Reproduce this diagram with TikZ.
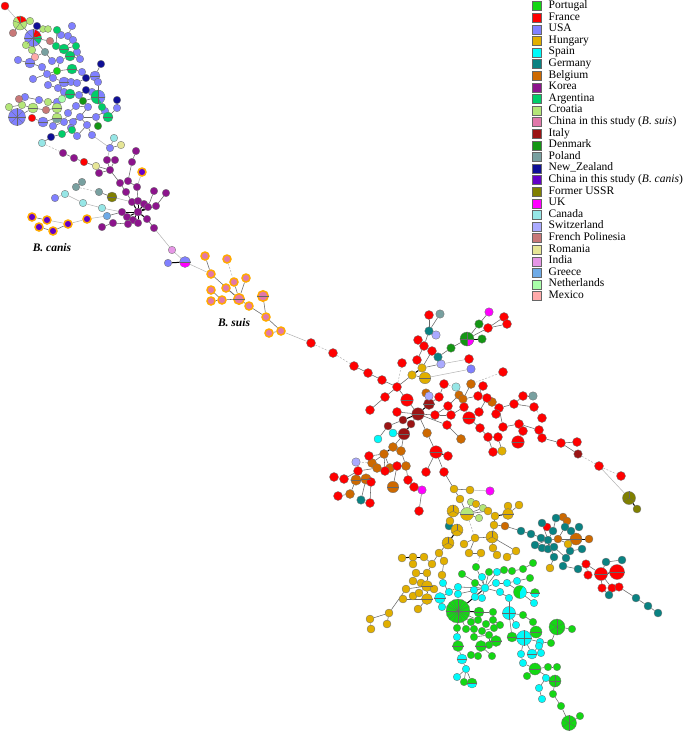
\documentclass[tikz,border=0pt]{standalone}
\usepackage{fontspec}
\setmainfont{Liberation Serif}
\pgfdeclarelayer{bg}
\pgfsetlayers{bg,main}
\definecolor{cPT}{RGB}{20,215,20}
\definecolor{cFR}{RGB}{255,0,0}
\definecolor{cUS}{RGB}{128,128,255}
\definecolor{cHU}{RGB}{225,175,0}
\definecolor{cES}{RGB}{0,250,250}
\definecolor{cDE}{RGB}{10,130,130}
\definecolor{cBE}{RGB}{205,105,0}
\definecolor{cKR}{RGB}{140,20,140}
\definecolor{cAR}{RGB}{0,205,105}
\definecolor{cHR}{RGB}{180,230,120}
\definecolor{cCS}{RGB}{225,120,170}
\definecolor{cIT}{RGB}{155,20,20}
\definecolor{cDK}{RGB}{20,150,20}
\definecolor{cPL}{RGB}{120,160,160}
\definecolor{cNZ}{RGB}{15,15,150}
\definecolor{cCC}{RGB}{100,0,200}
\definecolor{cSU}{RGB}{128,128,0}
\definecolor{cUK}{RGB}{255,0,255}
\definecolor{cCA}{RGB}{150,230,230}
\definecolor{cCH}{RGB}{170,170,255}
\definecolor{cPF}{RGB}{200,120,120}
\definecolor{cRO}{RGB}{230,230,150}
\definecolor{cIN}{RGB}{230,150,230}
\definecolor{cGR}{RGB}{110,170,230}
\definecolor{cNL}{RGB}{170,255,170}
\definecolor{cMX}{RGB}{255,170,170}
\definecolor{cRing}{RGB}{255,170,0}
\tikzset{
 nd/.style={circle,draw=black!55,line width=0.35pt,inner sep=0pt},
 ringnd/.style={circle,draw=cRing,line width=1.5pt,inner sep=0pt},
 lnA/.style={draw=black!60,line width=0.55pt},
 lnB/.style={draw=black,line width=1pt},
 lnL/.style={draw=black!30,line width=0.5pt},
 lnD/.style={draw=black!30,line width=0.5pt,dash pattern=on 2pt off 1.5pt},
 slice/.style={draw=black!60,line width=0.3pt},
 lgbox/.style={draw=black!60,line width=0.4pt,minimum size=9pt,inner sep=0pt},
 lgtext/.style={anchor=west,inner sep=0pt,text height=7pt,text depth=2pt,font=\fontsize{11.5}{12}\selectfont},
 grplabel/.style={font=\fontsize{11.5}{12}\selectfont\bfseries\itshape}
}
\newcommand\NodeSet[3][nd]{\foreach \nn/\xx/\yy/\sz in {#3}{\node[#1,fill=#2,minimum size=\sz pt] (\nn) at (\xx,\yy) {};}}
\newcommand\EdgeSet[2]{\foreach \ea/\eb in {#2}{\draw[#1] (\ea) -- (\eb);}}
\begin{document}
\begin{tikzpicture}[x=1pt,y=-1pt]
\useasboundingbox (0,0) rectangle (685,732);
% ---------- nodes ----------
\NodeSet{cBE}{be1/426/393/8.5, be2/427/433/9, be3/461/439/9, be4/459/395/8.5, be5/463/399/8.5, be6/471/384/9, be7/492/402/9, be8/393/447/9, be9/384/454/9, be10/372/463/9, be11/377/468/9, be12/390/468/9, be13/401/451/9, be14/406/466/9, be15/356/480/10.5, be16/366/479/10.5, be17/393/487/11.5, be18/350/494/9, be19/505/526/8, be20/563/517/8, be21/567/521/8, be22/558/539/8, be23/576/539/12, be24/589/539/8}
\NodeSet{cUS}{t8/33/38/17, t16/72/26/7.5, t17/61/35/7.5, t18/68/36/7.5, t19/73/40/7.5, t22/77/52/7.5, t24/80/59/7.5, t25/60/60/7.5, t26/52/61/7.5, t27/18/60/7.5, t28/30/63/10, t31/42/67/7.5, t32/47/74/7.5, t33/33/79/7.5, t34/53/78/7.5, t35/64/82/10, t36/71/82/7.5, t37/77/83/7.5, t38/82/72/7.5, t40/95/76/10, t42/98/82/7.5, t43/48/85/7.5, t44/58/88/7.5, t45/64/92/7.5, t47/79/95/7.5, t49/92/92/7.5, t52/57/102/7.5, t55/39/100/7.5, t57/25/97/7.5, t64/17/117/17, t66/43/122/10, t67/53/126/7.5, t68/64/122/7.5, t69/68/113/7.5, t70/76/106/7.5, t71/80/117/7.5, t72/73/122/7.5, t73/88/107/7.5, t74/87/125/7.5, t75/96/117/7.5, t78/105/111/7.5, t80/117/108/7.5, t82/71/128/7.5, t85/77/136/7.5, t86/92/135/7.5, t90/110/148/7.5, us1/55/198/7.5, uk1/185/262/11, us3/168/263/7.5, us2/471/369/8.5}
\NodeSet{cAR}{t14/57/30/7.5, t15/56/46/7.5, t20/64/49/10, t21/76/46/7.5, t23/70/56/10, t30/72/69/10, t46/70/94/10, t50/98/97/14, t76/102/107/7.5, t77/108/117/10, t83/62/134/7.5, t84/72/130/7.5}
\NodeSet{cHR}{t2/20/23/14, t4/30/21/7.5, t5/43/29/7, t6/48/29/7, t9/26/45/7.5, t10/32/50/7.5, t54/48/102/7.5, t58/9/107/7.5, t59/22/105/7.5, t60/33/108/10, t62/57/108/10, t63/57/118/10, hr1/471/502/7.5, hr2/483/508/7.5, hr3/479/518/7.5, hhp/467/514/13}
\NodeSet{cNZ}{t3/37/26/7.5, t39/101/64/7.5, t41/86/78/7.5, t48/86/90/7.5, t79/117/100/7.5, t87/51/137/7.5}
\NodeSet{cPF}{t7/13/33/7.5, t13/50/41/7.5, t56/19/99/7.5, t61/46/110/7.5}
\NodeSet{cMX}{t11/35/57/7.5}
\NodeSet{cPL}{t12/45/52/7.5, p1/82/182/7.5, p2/76/187/7.5, p3/99/192/7.5, pl1/440/314/8.5, pl2/533/396/8.5}
\NodeSet{cDK}{t51/83/101/7.5, t81/98/126/7.5, dk1/451/348/8.5, dk2/479/324/8.5, dk3/482/339/8.5, dkp/467/339/14}
\NodeSet{cNL}{t53/62/99/7.5}
\NodeSet{cCA}{t88/42/143/7.5, t91/114/138/7.5, ca1/65/194/7.5, ca2/83/203/7.5, ca3/102/208/7.5, ca4/456/387/8.5}
\NodeSet{cRO}{t92/121/145/7.5, k4/96/166/7.5}
\NodeSet{cKR}{k1/63/153/7.5, k2/74/158/7.5, k5/107/160/7.5, k6/115/160/7.5, k7/136/151/7.5, k8/132/162/7.5, k9/110/170/7.5, k10/99/173/7.5, k12/120/183/7.5, k13/128/181/7.5, k14/137/187/7.5, k15/126/192/7.5, k16/154/191/7.5, k17/166/193/7.5, k18/132/202/7.5, k19/138/201/7.5, k20/144/204/7.5, k21/148/207/7.5, k22/156/206/7.5, k23/138/212/8, k24/122/212/7.5, k25/127/217/7.5, k26/133/220/7.5, k27/138/223/7.5, k28/147/219/7.5, k29/128/224/7.5, k30/113/223/7.5, k31/102/227/7.5, k32/154/228/7.5}
\NodeSet{cGR}{gr1/107/216/7.5}
\NodeSet{cSU}{su1/112/197/10, su2/629/498/13, su3/637/509/8}
\NodeSet{cIN}{in1/172/250/7.5}
\NodeSet{cUK}{uk2/489/312/8.5, uk3/422/490/8.5, uk4/490/491/8.5}
\NodeSet[ringnd]{cCC}{cc1/32/217/8, cc2/47/220/8, cc3/39/227/8, cc4/53/231/8, cc5/68/224/8, cc6/87/219/8, k11/142/172/8}
\NodeSet[ringnd]{cCS}{s1/205/256/8, s2/227/259/8, s3/211/274/8, s4/234/282/8, s5/246/278/8, s6/226/288/8, s7/211/290/8, s8/211/301/8, s9/222/300/8, s10/239/299/10.5, s11/249/306/8, s12/263/296/10.5, s13/266/317/8, s14/281/331/8, s15/269/333/8}
\NodeSet{cFR}{t1/5/6/8, t65/32/118/7.5, k3/84/162/7.5, f1/311/343/9, f2/333/353/9, f3/354/366/9, f4/368/373/9, f5/382/380/9, f6/397/387/9, f7/385/397/9, f8/370/410/9, f9/402/363/9, f10/417/360/9, f11/418/340/9, f12/424/346/9, f13/429/315/9, f14/432/351/9, f15/488/328/9, f16/504/317/9, f17/507/324/9, f18/469/359/9, f19/407/400/12.5, f20/439/397/9, f21/444/384/9, f22/397/412/9, f23/435/415/9, f24/448/406/9, f25/451/415/9, f26/447/425/9, f27/436/452/12.5, f28/448/456/9, f29/426/472/9, f30/444/472/9, f31/483/386/9, f32/503/372/9, f33/464/407/9, f34/478/396/9, f35/469/418/12.5, f36/479/412/9, f37/487/398/9, f38/499/408/9, f39/496/414/9, f40/514/404/9, f41/523/396/9, f42/534/407/9, f43/503/427/9, f44/519/424/9, f45/523/431/9, f46/539/430/9, f47/542/418/9, f48/542/438/9, f49/518/442/12.5, f50/480/428/9, f51/488/437/9, f52/498/437/9, f53/493/452/9, f54/369/456/9, f55/385/471/9, f56/397/466/9, f57/358/471/9, f58/344/479/9, f59/334/477/9, f60/371/482/9, f61/408/480/9, f62/414/487/9, f63/338/496/9, f64/370/503/9, f65/419/511/9, f66/586/564/8.5, f67/588/575/8.5, f68/601/574/13, f69/617/572/15, f70/602/588/8.5, f71/612/588/8.5, f72/619/587/8.5, f73/561/443/9, f74/577/442/9, f75/599/466/9, f76/621/476/9, fr/547/527/8}
\NodeSet{cIT}{it1/418/414/12.5, it2/429/404/11, it3/403/420/8, it4/388/426/8, it5/411/424/8, it6/404/434/11.5, it7/578/454/8.5}
\NodeSet{cCH}{sw1/436/335/8.5, sw2/441/364/8.5, sw3/429/396/8.5, sw4/356/462/8.5}
\NodeSet{cDE}{g1/429/331/8.5, g2/438/357/8.5, g3/361/500/8.5, g4/449/526/8, g5/521/531/8, g6/531/534/8, g7/542/523/8, g8/556/518/8, g9/553/531/8, g10/541/538/8, g11/548/540/8, g12/535/545/8, g13/542/548/8, g14/548/549/8, g15/554/547/8, g16/565/527/8, g17/571/531/8, g18/579/527/8, g19/570/551/8, g20/582/549/8, g21/566/558/8, g22/554/557/8, g23/563/566/8, g24/578/569/8, g25/606/562/8, g26/622/560/8, g27/609/595/8, g28/636/598/8, g29/648/606/8, g30/658/613/8}
\NodeSet{cHU}{h1/412/375/8.5, h2/422/368/8.5, h3/425/378/11.5, hu4/502/451/8.5, hu5/454/489/8, hu6/470/490/8, hu7/460/499/8, hu8/476/504/7.5, hu9/453/511/12, hu10/450/521/8, hu11/488/511/8, hu12/495/516/8, hu13/494/525/8, hu14/457/530/12, hu16/492/537/12, hu17/475/538/8, hu18/464/544/8, hu19/448/543/12, hu21/469/553/8, hu22/481/553/8, hu23/493/548/8, hu24/497/555/8, hu26/508/506/8, hu27/519/505/8, hu28/508/514/11, hu29/507/557/8, hu30/516/551/8, hu31/568/544/8, hu32/550/568/8,
 hl1/439/553/8, hl2/444/561/8, hl3/432/564/8, hl4/424/557/8, hl5/413/557/8, hl6/402/558/8, hl7/413/564/8, hl8/427/573/8, hl9/416/573/8, hl10/413/581/8, hl11/421/583/8, hl12/427/586/11, hl13/434/589/8, hl14/406/589/8, hl15/413/596/8, hl16/419/593/8, hl17/427/599/11, hl18/403/599/8, hl19/389/613/8, hl20/370/619/8, hl21/371/629/8, hl22/387/624/8, hl23/418/609/8, hl24/442/575/8}
\NodeSet{cES}{es1/393/433/8, es2/378/439/8, q4/482/577/7.5, q6/497/572/7.5, q12/485/588/8, q13/474/590/7.5, q14/475/597/7.5, q15/482/598/7.5, q16/496/583/7.5, q17/507/583/7.5, q18/500/592/7.5, q19/509/598/7.5, q20/517/581/7.5, q23/534/603/7.5, q24/443/583/7.5, q26/440/598/11, q27/442/607/7.5, q28/449/592/7.5, q29/458/587/7.5, q31/458/594/7.5, q47/457/637/7.5, q57/462/659/10, q58/466/669/7.5, q59/457/677/7.5, q62/509/613/13, q64/516/625/7.5, q69/524/638/15, q70/540/642/7.5, q74/532/654/10, q75/541/653/7.5, q76/539/646/7.5, q77/521/654/7.5, q78/523/663/7.5, q84/546/678/7.5, q85/539/688/7.5, q86/542/699/7.5}
\NodeSet{cPT}{t29/57/71/7.5, P0/458/611/24, q1/462/574/7.5, q2/476/567/7.5, q3/475/583/7.5, q5/489/572/7.5, q7/504/570/7.5, q8/512/571/7.5, q9/523/569/7.5, q10/533/563/7.5, q11/530/578/7.5, q21/520/592/13, q22/535/593/9, q35/479/612/10, q36/493/612/7.5, q37/471/622/7.5, q38/478/620/7.5, q39/486/624/7.5, q40/493/620/7.5, q41/500/625/7.5, q42/457/628/7.5, q43/466/629/7.5, q44/474/629/7.5, q45/482/631/7.5, q46/494/628/7.5, q48/474/637/7.5, q49/489/635/7.5, q50/496/641/11, q51/481/646/11, q52/489/645/7.5, q53/458/646/11, q54/471/655/7.5, q55/478/656/7.5, q56/492/656/7.5, q60/464/682/7.5, q61/472/683/10, q63/523/615/7.5, q66/533/622/7.5, q67/536/632/12, q68/512/637/10, q71/551/643/7.5, q72/557/627/16, q73/572/629/7.5, q79/535/669/12, q80/527/676/7.5, q81/548/667/7.5, q82/557/667/7.5, q83/555/681/12, q87/553/694/7.5, q88/561/706/7.5, q89/569/723/15, q90/580/716/7.5}
% ---------- pies ----------
\fill[cFR] (t2.center) -- ++(20:6.8pt) arc[start angle=20,end angle=120,radius=6.8pt] -- cycle;
\fill[cFR] (t8.center) -- ++(15:8.3pt) arc[start angle=15,end angle=75,radius=8.3pt] -- cycle;
\fill[cAR] (t8.center) -- ++(-45:8.3pt) arc[start angle=-45,end angle=15,radius=8.3pt] -- cycle;
\fill[cUS] (t50.center) -- ++(-60:6.8pt) arc[start angle=-60,end angle=90,radius=6.8pt] -- cycle;
\fill[cPL] (t63.center) -- ++(180:4.8pt) arc[start angle=180,end angle=360,radius=4.8pt] -- cycle;
\fill[cUK] (dkp.center) -- ++(-90:6.8pt) arc[start angle=-90,end angle=0,radius=6.8pt] -- cycle;
\fill[cUK] (uk1.center) -- ++(180:5.3pt) arc[start angle=180,end angle=360,radius=5.3pt] -- cycle;
\fill[cHU] (hhp.center) -- ++(180:6.3pt) arc[start angle=180,end angle=360,radius=6.3pt] -- cycle;
\fill[cES] (q21.center) -- ++(-90:6.3pt) arc[start angle=-90,end angle=60,radius=6.3pt] -- cycle;
\fill[cES] (q22.center) -- ++(180:4.3pt) arc[start angle=180,end angle=360,radius=4.3pt] -- cycle;
\fill[cES] (q61.center) -- ++(180:4.8pt) arc[start angle=180,end angle=360,radius=4.8pt] -- cycle;
\foreach \nm/\k in {P0/16, t8/8, t64/8, q72/6, q89/6, q62/4, q69/4, hu9/3, hu14/3, hu19/3, hu16/3, su2/3, t2/5, t50/4, dkp/4, q83/4}{
  \foreach \j in {1,...,\k}{\pgfmathsetmacro\ang{mod(90+360*\j/\k,360)}\draw[slice] (\nm.center) -- (\nm.\ang);}}
\foreach \nm in {t20,t23,t28,t30,t35,t40,t46,t60,t62,t63,t66,t77,f19,it1,it2,it6,f27,f35,f49,h3,be15,be16,be17,be23,hu28,hl12,hl17,q26,q50,q51,q53,q67,q68,q57,q74,q79,q22,q61,f68,f69,s10,s12,su1,q35,uk1,hhp}{
  \draw[slice] (\nm.west) -- (\nm.east);}
% ---------- edges ----------
\begin{pgfonlayer}{bg}
\EdgeSet{lnA}{t2/t4, t2/t7, t2/t8, t3/t8, t5/t8, t5/t6, t8/t9, t8/t10, t8/t13, t8/t12, t12/t11, t13/t15, t15/t14, t15/t20, t18/t16, t18/t17, t18/t19, t19/t20, t20/t21, t21/t22, t20/t23, t23/t24, t23/t25, t25/t26, t26/t12, t25/t29, t27/t28, t28/t31, t31/t32, t32/t29, t29/t30, t30/t38, t29/t34, t32/t33, t34/t35, t35/t36, t36/t37, t37/t41, t41/t40, t40/t39, t40/t42, t35/t44, t44/t43, t44/t45, t45/t46, t46/t47, t47/t48, t48/t49, t49/t50, t50/t42, t50/t51, t46/t52, t52/t53, t52/t54, t54/t55, t55/t57, t57/t56, t58/t59, t59/t60, t60/t61, t61/t62, t62/t52, t62/t63, t60/t64, t65/t66, t66/t63, t67/t63, t67/t68, t68/t69, t69/t70, t70/t73, t73/t71, t71/t72, t68/t71, t71/t74, t71/t75, t75/t78, t78/t76, t79/t80, t80/t77, t77/t78, t75/t81, t72/t82, t82/t84, t84/t83, t83/t87, t87/t88, t74/t85, t74/t86, t90/t91, t90/t92}
\EdgeSet{lnL}{t1/t2, t86/t90, t90/k5}
\EdgeSet{lnD}{t88/k1}
\EdgeSet{lnA}{k1/k2, k2/k3, k3/k4, k4/k9, k5/k9, k6/k9, k7/k8, k8/k13, k10/k9, k9/k12, k12/k15, k15/k18, k13/k14, k14/k19, k16/k21, k17/k22, k29/k25, k30/k29, k31/k30, k32/k28, p1/p2, p3/su1, gr1/k24, cc1/cc2, cc3/cc4, cc4/cc5}
\EdgeSet{lnB}{k18/k23, k19/k23, k20/k23, k21/k23, k22/k23, k24/k23, k25/k23, k26/k23, k27/k23, k28/k23}
\EdgeSet{lnL}{k11/k14, k32/in1, su1/k18, us1/ca1, ca1/ca2, ca2/ca3, ca3/k24, cc6/gr1, cc5/cc6, cc2/cc5, in1/uk1, uk1/s3, s14/f1}
\EdgeSet{lnD}{p2/p3, s2/s4, f1/f2, f2/f3, f6/f9, f21/ca4, be6/f32, be10/sw4, f42/f47, it7/f75, f75/f76, hl20/hl21, hhp/hu17, hu22/q2}
\EdgeSet{lnB}{us3/uk1, h1/h2, it1/it2, it1/it3, it5/it6, f27/f28, be4/be5, be8/be9, be15/be16, dkp/dk3, su2/su3, hr1/hu8, hu12/hu28, hu14/hu19, hl4/hl5, hl5/hl6, hl12/hl13, be20/be21, be23/be24, f68/f69, q12/P0, P0/q35}
\EdgeSet{lnA}{s1/s3, s3/s10, s4/s10, s5/s10, s6/s10, s7/s9, s8/s9, s9/s10, s10/s11, s11/s13, s12/s13, s13/s14, s14/s15}
\EdgeSet{lnA}{f3/f4, f4/f5, f5/f6, f6/f7, f7/f8, f6/h1, h1/h3, h2/f10, f10/f12, f11/f12, f12/g1, g1/f13, g1/pl1, g1/sw1, h2/f14, f14/g2, g2/dk1, dk1/dkp, dkp/dk2, dk2/uk2, dkp/f15, f15/f16, f15/f17, h2/sw2,
 f6/f19, f19/it1, it2/sw3, it2/be1, it2/f20, f20/f21, it1/f22, it3/it4, it1/it5, it6/es1, it4/es2, it1/f23, f23/f24, f23/f25, it1/f26, it1/be2, be2/f27, f27/f29, f27/f30, f26/be3,
 f24/be4, be5/be6, f34/f31, f25/f33, f33/f35, f35/f36, f36/f37, f37/be7, be7/f38, f38/f39, f38/f40, f40/f41, f41/pl2, f40/f42, f38/f43, f43/f44, f44/f45, f44/f46, f46/f48, f45/f49, f48/f73, f73/f74, f73/it7, be5/f34, f35/f50, f50/f51, f51/f52, f51/f53, f52/hu4,
 it6/be8, be9/f54, be9/be10, be10/be11, be9/be12, be12/f56, it6/be13, be13/be14, be14/f61, f61/f62, f62/uk3, uk3/f65, be11/f57, f57/f58, f58/f59, f57/be15, be16/f60, be15/be18, be18/f63, be16/g3, f60/f64, be9/f55, f56/be17, f30/hu5}
\EdgeSet{lnL}{sw2/f18, h3/us2, f75/su2, hu6/uk4}
\EdgeSet{lnA}{hu5/hu6, hu5/hu7, hu7/hhp, hhp/hr1, hhp/hr2, hhp/hr3, hhp/hu11, hu11/hu12, hu28/hu26, hu28/hu27, hu12/hu13, hu13/be19, be19/g5, hhp/hu9, hu9/hu10, hu9/g4, g4/hu14, hu19/hl1, hl1/hl2, hl1/hl3, hl3/hl4, hl5/hl7, hl3/hl8, hl8/hl9, hl8/hl12, hl12/hl10, hl12/hl11, hl12/hl14, hl12/hl16, hl16/hl15, hl12/hl17, hl17/hl18, hl14/hl19, hl19/hl20, hl19/hl22, hl17/hl23, hl2/hl24, hl24/q24, hu13/hu16, hu16/hu23, hu23/hu24, hu16/hu17, hu17/hu18, hu17/hu21, hu16/hu30, hu30/hu29, hu21/hu22}
\EdgeSet{lnA}{g5/g6, g6/g11, g11/g7, g7/fr, g11/g9, g9/g8, g8/be20, g11/g10, g11/g12, g11/g13, g11/g14, g11/g15, g11/be22, be22/g16, g16/g17, g17/g18, be22/be23, be22/hu31, hu31/g19, g19/g20, g15/g21, g21/g23, g11/g22, g22/hu32, g23/g24, g24/f66, f66/f67, f66/f68, f68/g25, g25/g26, f68/f71, f71/f72, f68/f70, f70/g27, f72/g28, g28/g29, g29/g30}
\EdgeSet{lnA}{q24/q28, q28/q26, q26/q27, q28/q29, q29/q12, q31/q12, q12/q1, q12/q2, q12/q3, q12/q4, q12/q5, q12/q6, q12/q13, q12/q14, q12/q15, q12/q16, q12/q18, q6/q7, q7/q8, q8/q9, q9/q10, q16/q17, q17/q20, q20/q11, q17/q21, q18/q19, q21/q22, q21/q23, q19/q62, q35/q36, P0/q37, P0/q38, q38/q39, q39/q40, q40/q41, q36/q40, P0/q42, P0/q43, q43/q44, q44/q45, q45/q46, q44/q48, q48/q49, q49/q50, q49/q52, q52/q51, q51/q55, q55/q54, q51/q56, q42/q47, q47/q53, q53/q57, q57/q58, q58/q59, q58/q60, q58/q61, q62/q63, q62/q64, q62/q68, q63/q66, q66/q67, q68/q69, q69/q67, q69/q70, q70/q71, q71/q72, q72/q73, q69/q74, q74/q75, q74/q76, q69/q77, q77/q78, q78/q79, q79/q80, q79/q81, q81/q82, q79/q83, q83/q84, q84/q85, q85/q86, q83/q87, q87/q88, q88/q89, q89/q90}
\end{pgfonlayer}
% ---------- labels ----------
\node[grplabel] (lcanis) at (52,248) {B. canis};
\node[grplabel] (lsuis) at (234,323) {B. suis};
% ---------- legend ----------
\foreach \lab/\cl [count=\i] in {Portugal/cPT, France/cFR, USA/cUS, Hungary/cHU, Spain/cES, Germany/cDE, Belgium/cBE, Korea/cKR, Argentina/cAR, Croatia/cHR, China in this study (\textit{B. suis})/cCS, Italy/cIT, Denmark/cDK, Poland/cPL, New\_Zealand/cNZ, China in this study (\textit{B. canis})/cCC, Former USSR/cSU, UK/cUK, Canada/cCA, Switzerland/cCH, French Polinesia/cPF, Romania/cRO, India/cIN, Greece/cGR, Netherlands/cNL, Mexico/cMX}{
  \node[lgbox,fill=\cl] (lg\i) at (536.5,{6+11.6*(\i-1)}) {};
  \node[lgtext] (lt\i) at (548.5,{6+11.6*(\i-1)}) {\lab};
}
\end{tikzpicture}
\end{document}
